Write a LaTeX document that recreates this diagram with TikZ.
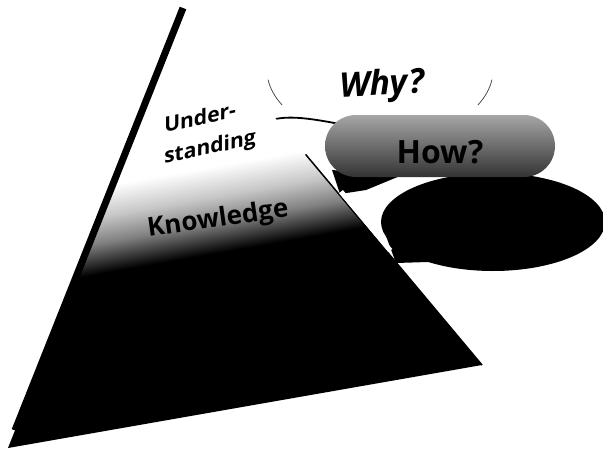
\documentclass[tikz,border=0pt]{standalone}
\usepackage{fontspec}
\setmainfont{Open Sans}
\usepackage{tikz}
\usetikzlibrary{calc, positioning, backgrounds}

% fade of the pyramid, white at the top and black at the bottom
\pgfdeclareverticalshading{pyrfade}{100bp}{color(0bp)=(black); color(37bp)=(black);
  color(40bp)=(black!80); color(44.5bp)=(black!50); color(51bp)=(black!22);
  color(58.5bp)=(white); color(100bp)=(white)}

\tikzset{
  lbl/.style={inner sep=0pt, text=black},
  brush/.style={black, line width=1.8pt, line cap=round},
  cloudarc/.style={black!70, line width=0.8pt},
  howbox/.style={rounded corners=31pt, minimum width=230pt, minimum height=62pt,
    top color=black!35, bottom color=black!80, inner sep=0pt, text height=35pt, text depth=0pt,
    font=\bfseries\fontsize{32}{32}\selectfont},
}

\begin{document}
\begin{tikzpicture}[x=1pt, y=-1pt]
    \useasboundingbox (0,0) rectangle (603,450);

    % 1. Corners of the pyramid
    \coordinate (apex) at (183,8);
    \coordinate (bl) at (8,448);
    \coordinate (br) at (482,365);

    % 2. Dark bubble behind, with its small tail
    \fill[black] (493,222) ellipse [x radius=112, y radius=49];
    \fill[black] (386,236) -- (432,254) -- (428,262) -- (396,263) -- cycle;
    \fill[black] (332,170) -- (400,176) -- (366,190) -- (340,194) -- cycle;

    % 3. Pyramid: white on top, dark at the bottom
    \begin{scope}
        \clip (apex) -- (bl) -- (br) -- cycle;
        \begin{scope}[transform canvas={rotate around={10:(220,220)}}]
            \shade[shading=pyrfade] (-100,100) rectangle (700,300);
            \fill[black] (-100,299) rectangle (700,700);
        \end{scope}
    \end{scope}
    \draw[black, line width=7pt] (apex) -- ($(apex)!0.96!(bl)$);
    \draw[black, line width=1.5pt] ($(apex)!0.41!(br)$) -- (br);
    \draw[white, line width=5pt] ($(apex)!0.52!(br)+(2.5,-2)$) -- ($(apex)!0.685!(br)+(2.5,-2)$);

    % 4. Labels
    \node[lbl, align=left, yslant=0.21, font=\bfseries\fontsize{21}{31}\selectfont] (under) at (210,133) {Under-\\standing};
    \node[lbl, rotate=8, font=\bfseries\fontsize{26}{26}\selectfont] (know) at (218,220) {Knowledge};
    \node[lbl, rotate=3, font=\bfseries\itshape\fontsize{34}{34}\selectfont] (why) at (382,86) {Why?};

    % 5. Why? cloud (only two arcs show)
    \coordinate (whyc) at (380,70);
    \draw[cloudarc] (whyc) ++(172:113 and 70) arc[start angle=172, end angle=150, x radius=113, y radius=70];
    \draw[cloudarc] (whyc) ++(8:113 and 70) arc[start angle=8, end angle=30, x radius=113, y radius=70];

    % 6. How? bubble
    \node[howbox] (how) at (440,146) {How?};

    % 7. Pointer from Understanding into How?
    \coordinate (tip) at (262,123);
    \begin{scope}[on background layer]
        \draw[brush] (tip) .. controls (290,112) and (312,117) .. (how.center);
    \end{scope}

\end{tikzpicture}
\end{document}
